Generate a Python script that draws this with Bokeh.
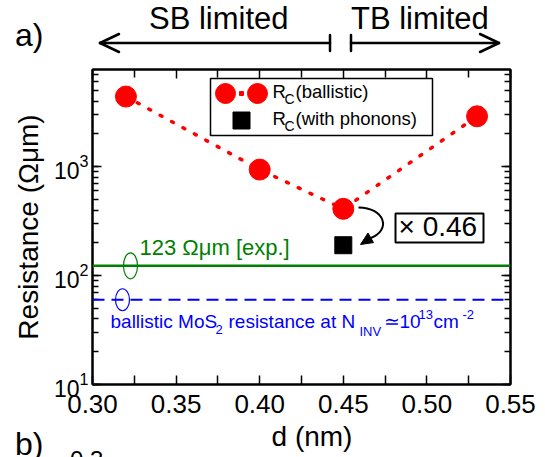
import math
from bokeh.plotting import figure
from bokeh.layouts import column
from bokeh.models import (Range1d, LogAxis, LinearAxis, FixedTicker, LogTicker, Div,
                          Span, Label, BoxAnnotation, PolyAnnotation, PrintfTickFormatter)
from bokeh.embed import file_html
from bokeh.resources import INLINE

# ---------------- data ----------------
d_nm = [0.32, 0.40, 0.45, 0.53]
rc_ballistic = [4400, 940, 410, 2900]
d_phonons = [0.45]
rc_phonons = [190]
exp_resistance = 123
ballistic_mos2 = 60
x_ticks = [0.30, 0.35, 0.40, 0.45, 0.50, 0.55]
x_minor_ticks = [0.325, 0.375, 0.425, 0.475, 0.525]

FONT = "Liberation Sans"
RED, GREEN, BLUE = "#ff0000", "#008000", "#0000ff"
BASE = 0.37  # baseline correction (fraction of font size)

W = 545
HEAD_H = 55          # header strip (range arrows)
FOOT_Y = 425         # footer strip start (axis title)
FL, FR, FT, FB = 92, 510, 69, 384   # frame in page pixels
X_LO, X_HI = 0.30, 0.55
Y_LO, Y_HI = 10, 7800


def fx(px):
    return X_LO + (px - FL) / (FR - FL) * (X_HI - X_LO)


def fy(py):
    lo, hi = math.log10(Y_LO), math.log10(Y_HI)
    return 10 ** (lo + (FB - py) / (FB - FT) * (hi - lo))


# ---------------- main plot ----------------
p = figure(title=None, frame_width=FR - FL, frame_height=FB - FT,
           x_range=Range1d(X_LO, X_HI), y_range=Range1d(Y_LO, Y_HI),
           y_axis_type="log", output_backend="svg", toolbar_location=None,
           min_border_left=FL, min_border_right=W - FR,
           min_border_top=FT - HEAD_H, min_border_bottom=FOOT_Y - FB)
p.grid.visible = False
p.outline_line_color = "black"
p.outline_line_width = 2
p.background_fill_color = "white"
p.border_fill_color = "white"

xt = FixedTicker(ticks=x_ticks, minor_ticks=x_minor_ticks)
xa = p.xaxis[0]
xa.ticker = xt
xa.formatter = PrintfTickFormatter(format="%.2f")
ya = p.yaxis[0]
ya.ticker = LogTicker(num_minor_ticks=10)
ya.axis_label = "Resistance (Ωμm)"

for ax in (xa, ya):
    ax.axis_line_width = 2
    ax.axis_line_color = "black"
    ax.major_tick_in = 9
    ax.major_tick_out = 0
    ax.minor_tick_in = 6
    ax.minor_tick_out = 0
    ax.major_tick_line_width = 1.5
    ax.minor_tick_line_width = 1.5
    ax.major_tick_line_color = "black"
    ax.minor_tick_line_color = "black"
    ax.major_label_text_color = "black"
    ax.major_label_text_font = FONT
    ax.axis_label_text_font = FONT
    ax.axis_label_text_font_style = "normal"
    ax.axis_label_text_color = "black"
    ax.axis_label_text_font_size = "28px"
xa.minor_tick_in = 9
xa.major_label_text_font_size = "26px"
xa.major_label_standoff = 10
ya.major_label_text_font_size = "23px"
ya.major_label_standoff = 4
ya.axis_label_standoff = 7

top = LinearAxis(ticker=xt, major_label_text_font_size="2px", major_label_text_color=None,
                 major_label_standoff=0, axis_line_width=2,
                 major_tick_in=9, major_tick_out=0, minor_tick_in=8, minor_tick_out=0,
                 major_tick_line_width=1.5, minor_tick_line_width=1.5)
right = LogAxis(ticker=LogTicker(num_minor_ticks=10), major_label_text_font_size="2px",
                major_label_text_color=None, major_label_standoff=0,
                axis_line_width=2, major_tick_in=9, major_tick_out=0,
                minor_tick_in=6, minor_tick_out=0,
                major_tick_line_width=1.5, minor_tick_line_width=1.5)
p.add_layout(top, "above")
p.add_layout(right, "right")

p.add_layout(Span(location=exp_resistance, dimension="width", line_color=GREEN, line_width=2.5))
p.add_layout(Span(location=ballistic_mos2, dimension="width", line_color=BLUE,
                  line_width=2, line_dash="12 7"))
p.ellipse(x=[fx(130)], y=[exp_resistance], width=14, height=26, width_units="screen",
          height_units="screen", fill_color=None, line_color=GREEN, line_width=1.2)
p.ellipse(x=[fx(122)], y=[ballistic_mos2], width=14, height=22, width_units="screen",
          height_units="screen", fill_color=None, line_color=BLUE, line_width=1.2)

p.line(d_nm, rc_ballistic, line_color=RED, line_width=3.5, line_dash="2 11", line_cap="round")
p.scatter(d_nm, rc_ballistic, size=21, fill_color=RED, line_color=RED)
p.scatter(d_phonons, rc_phonons, marker="square", size=17, fill_color="black", line_color="black")


def txt(s, px, py, size, color="black"):
    p.add_layout(Label(x=fx(px), y=fy(py - BASE * size), text=s, text_font_size=f"{size}px",
                       text_color=color, text_font=FONT, text_baseline="alphabetic"))


p.add_layout(BoxAnnotation(left=fx(210), right=fx(432), top=fy(78), bottom=fy(135),
                           fill_color="white", fill_alpha=1, line_color="black",
                           line_alpha=1, line_width=1.5))
p.scatter([fx(225), fx(257)], [fy(93), fy(93)], size=20, fill_color=RED, line_color=RED, level="overlay")
p.scatter([fx(241)], [fy(93)], marker="square", size=4, fill_color=RED, line_color=RED, level="overlay")
p.scatter([fx(241)], [fy(120)], marker="square", size=17, fill_color="black", line_color="black", level="overlay")
txt("R", 272, 98, 18.5)
txt("C", 284, 104, 14)
txt("(ballistic)", 295, 98, 18.5)
txt("R", 272, 125, 18.5)
txt("C", 284, 131, 14)
txt("(with phonons)", 295, 125, 18.5)

txt("123 Ωμm [exp.]", 139, 255, 22, GREEN)
txt("ballistic MoS", 110, 328, 19, BLUE)
txt("2", 215, 334, 13, BLUE)
txt("resistance at N", 228, 328, 19, BLUE)
txt("INV", 359, 336, 13, BLUE)
txt("≃10", 383, 328, 19, BLUE)
txt("13", 418, 319, 13, BLUE)
txt("cm", 433, 328, 19, BLUE)
txt("-2", 462, 319, 13, BLUE)

p.add_layout(BoxAnnotation(left=fx(395), right=fx(483), top=fy(213), bottom=fy(242),
                           fill_color="white", fill_alpha=1, line_color="black",
                           line_alpha=1, line_width=2))
txt("× 0.46", 398, 236, 28)

p.bezier(x0=[fx(358)], y0=[fy(207)], x1=[fx(369)], y1=[fy(238)],
         cx0=[fx(384)], cy0=[fy(207)], cx1=[fx(392)], cy1=[fy(230)],
         line_color="black", line_width=2)
p.add_layout(PolyAnnotation(xs=[fx(360), fx(373.0), fx(367.5)], ys=[fy(244), fy(242.1), fy(232.5)],
                            line_color="black", line_alpha=1, line_width=1,
                            fill_color="black", fill_alpha=1))

# ---------------- header strip: regime arrows (inline SVG) ----------------
seg_x0 = [330, 100, 100, 330, 351, 499, 499, 351]
seg_y0 = [43, 43, 43, 35, 43, 43, 43, 35]
seg_x1 = [100, 119, 119, 330, 499, 480, 480, 351]
seg_y1 = [43, 34, 52, 51, 43, 34, 52, 51]
lines = "".join(f'<line x1="{a}" y1="{b}" x2="{c}" y2="{d}"/>'
                for a, b, c, d in zip(seg_x0, seg_y0, seg_x1, seg_y1))
head_svg = (
    f'<svg xmlns="http://www.w3.org/2000/svg" width="{W}" height="{HEAD_H}" '
    f'style="display:block" font-family="{FONT}, Arial, sans-serif" fill="black">'
    f'<text x="15" y="46" font-size="32">a)</text>'
    f'<text x="149" y="28.5" font-size="31">SB limited</text>'
    f'<text x="351" y="28.5" font-size="31">TB limited</text>'
    f'<g stroke="black" stroke-width="2.5" stroke-linecap="round" fill="none">{lines}</g>'
    f'</svg>'
)
head = Div(text=head_svg, width=W, height=HEAD_H, margin=0)

# ---------------- footer strip: axis title (inline SVG) ----------------
FOOT_H = 457 - FOOT_Y
foot_svg = (
    f'<svg xmlns="http://www.w3.org/2000/svg" width="{W}" height="{FOOT_H}" '
    f'style="display:block" font-family="{FONT}, Arial, sans-serif" fill="black">'
    f'<text x="312" y="{446 - FOOT_Y}" font-size="28" text-anchor="middle">d (nm)</text>'
    f'<text x="15" y="{455 - FOOT_Y}" font-size="32">b)</text>'
    f'<text x="70" y="{468 - FOOT_Y}" font-size="24">0.3</text>'
    f'</svg>'
)
foot = Div(text=foot_svg, width=W, height=FOOT_H, margin=0)

layout = column(head, p, foot, spacing=0)
open("out.html", "w").write(file_html(layout, INLINE))
